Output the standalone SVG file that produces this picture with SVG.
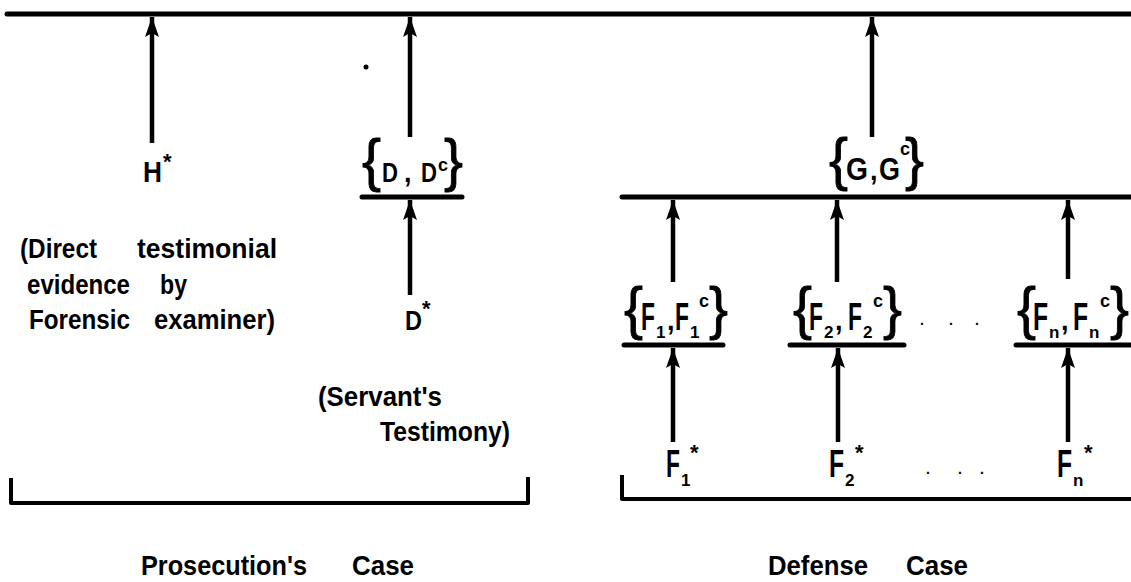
<svg xmlns="http://www.w3.org/2000/svg" width="1131" height="582" viewBox="0 0 1131 582">
<style>
  .t { font-family: "Liberation Sans", Arial, sans-serif; font-weight: bold; fill: #000; }
  .lbl { font-size: 28px; }
  .m { font-size: 38px; }
  .md { font-size: 27px; }
  .br { font-size: 57px; font-weight: normal; stroke: #000; stroke-width: 0.8; }
  .sup { font-size: 18px; }
  .sub { font-size: 17px; }
  .star { font-size: 22px; }
  .bar { stroke: #000; stroke-width: 5; stroke-linecap: round; fill: none; }
  .brk { stroke: #000; stroke-width: 4; fill: none; stroke-linejoin: round; }
  .con { stroke: #000; stroke-width: 4.5; fill: none; }
</style>
<defs>
  <marker id="ah" viewBox="0 0 20 14" refX="20" refY="7" markerWidth="20" markerHeight="14" markerUnits="userSpaceOnUse" orient="auto">
    <path d="M0,0 L20,7 L0,14 L4,7 Z" fill="#000"/>
  </marker>
</defs>
<rect width="1131" height="582" fill="#fff"/>

<g id="top-line">
  <line class="bar" x1="7" y1="14" x2="1131" y2="14"/>
</g>
<circle cx="366" cy="67" r="2.5" fill="#000"/>

<g id="node-H-star">
  <text class="t" style="font-size:30px" transform="translate(143,182) scale(0.875,1)">H</text>
  <text class="t star" x="163" y="169">*</text>
</g>

<g id="node-H-note">
  <text class="t lbl" x="20" y="258" textLength="77" lengthAdjust="spacingAndGlyphs">(Direct</text>
  <text class="t lbl" x="137" y="258" textLength="140" lengthAdjust="spacingAndGlyphs">testimonial</text>
  <text class="t lbl" x="27" y="294" textLength="103" lengthAdjust="spacingAndGlyphs">evidence</text>
  <text class="t lbl" x="160" y="294" textLength="27" lengthAdjust="spacingAndGlyphs">by</text>
  <text class="t lbl" x="29" y="329" textLength="101" lengthAdjust="spacingAndGlyphs">Forensic</text>
  <text class="t lbl" x="154" y="329" textLength="121" lengthAdjust="spacingAndGlyphs">examiner)</text>
</g>

<g id="node-D-set">
  <text class="t br" x="362" y="180">{</text>
  <text class="t md" transform="translate(382,182) scale(0.82,1)">D</text>
  <text class="t md" x="404" y="182">,</text>
  <text class="t md" transform="translate(421,182) scale(0.82,1)">D</text>
  <text class="t sup" x="438" y="171">c</text>
  <text class="t br" x="444" y="180">}</text>
  <line class="bar" x1="362" y1="197" x2="462" y2="197"/>
</g>

<g id="node-D-star">
  <text class="t md" transform="translate(405,330) scale(0.87,1)">D</text>
  <text class="t star" x="422" y="316">*</text>
</g>

<g id="node-D-note">
  <text class="t lbl" x="318" y="406" textLength="124" lengthAdjust="spacingAndGlyphs">(Servant's</text>
  <text class="t lbl" x="380" y="441" textLength="130" lengthAdjust="spacingAndGlyphs">Testimony)</text>
</g>

<g id="node-G-set">
  <text class="t br" x="829" y="179">{</text>
  <text class="t" style="font-size:31px" transform="translate(846,180) scale(0.91,1)">G</text>
  <text class="t md" x="870" y="180">,</text>
  <text class="t" style="font-size:31px" transform="translate(879,180) scale(0.87,1)">G</text>
  <text class="t sup" x="900" y="155">c</text>
  <text class="t br" x="905" y="179">}</text>
  <line class="bar" x1="622" y1="197" x2="1131" y2="197"/>
</g>

<g id="node-F1-set">
  <text class="t br" x="624" y="328">{</text>
  <text class="t m" transform="translate(641,330) scale(0.6,1)">F</text>
  <text class="t sub" x="656" y="338">1</text>
  <text class="t md" x="667" y="330">,</text>
  <text class="t m" transform="translate(675,330) scale(0.6,1)">F</text>
  <text class="t sub" x="690" y="338">1</text>
  <text class="t sup" x="699" y="307">c</text>
  <text class="t br" x="709" y="328">}</text>
  <line class="bar" x1="624" y1="345" x2="723" y2="345"/>
</g>

<g id="node-F2-set">
  <text class="t br" x="793" y="328">{</text>
  <text class="t m" transform="translate(809,330) scale(0.6,1)">F</text>
  <text class="t sub" x="824" y="338">2</text>
  <text class="t md" x="835" y="330">,</text>
  <text class="t m" transform="translate(848,330) scale(0.6,1)">F</text>
  <text class="t sub" x="863" y="338">2</text>
  <text class="t sup" x="873" y="307">c</text>
  <text class="t br" x="883" y="328">}</text>
  <line class="bar" x1="790" y1="345" x2="904" y2="345"/>
</g>

<g id="node-Fn-set">
  <text class="t br" x="1017" y="328">{</text>
  <text class="t m" transform="translate(1033,330) scale(0.65,1)">F</text>
  <text class="t sub" x="1049" y="338">n</text>
  <text class="t md" x="1061" y="330">,</text>
  <text class="t m" transform="translate(1073,330) scale(0.65,1)">F</text>
  <text class="t sub" x="1089" y="338">n</text>
  <text class="t sup" x="1100" y="307">c</text>
  <text class="t br" x="1110" y="328">}</text>
  <line class="bar" x1="1016" y1="345" x2="1131" y2="345"/>
</g>

<g id="node-F1-star">
  <text class="t m" transform="translate(666,477) scale(0.6,1)">F</text>
  <text class="t sub" x="681" y="486">1</text>
  <text class="t star" x="690" y="460">*</text>
</g>
<g id="node-F2-star">
  <text class="t m" transform="translate(829,477) scale(0.65,1)">F</text>
  <text class="t sub" x="845" y="486">2</text>
  <text class="t star" x="855" y="460">*</text>
</g>
<g id="node-Fn-star">
  <text class="t m" transform="translate(1057,477) scale(0.65,1)">F</text>
  <text class="t sub" x="1073" y="486">n</text>
  <text class="t star" x="1084" y="460">*</text>
</g>

<g id="ellipses">
  <text class="t" style="font-size:14px" x="920 949 975" y="325">...</text>
  <text class="t" style="font-size:14px" x="926 958 980" y="474">...</text>
</g>

<g id="bracket-prosecution">
  <path class="brk" d="M11,478 L11,503 L528,503 L528,477"/>
  <text class="t lbl" x="141" y="575" textLength="166" lengthAdjust="spacingAndGlyphs">Prosecution's</text>
  <text class="t lbl" x="352" y="575" textLength="62" lengthAdjust="spacingAndGlyphs">Case</text>
</g>

<g id="bracket-defense">
  <path class="brk" d="M622,475 L622,499 L1131,499"/>
  <text class="t lbl" x="768" y="575" textLength="100" lengthAdjust="spacingAndGlyphs">Defense</text>
  <text class="t lbl" x="906" y="575" textLength="62" lengthAdjust="spacingAndGlyphs">Case</text>
</g>

<g id="connectors">
  <path class="con" d="M152,143 L152,17" marker-end="url(#ah)"/>
  <path class="con" d="M410,137 L410,17" marker-end="url(#ah)"/>
  <path class="con" d="M410,295 L410,200" marker-end="url(#ah)"/>
  <path class="con" d="M872,137 L872,17" marker-end="url(#ah)"/>
  <path class="con" d="M673,282 L673,200" marker-end="url(#ah)"/>
  <path class="con" d="M837,282 L837,200" marker-end="url(#ah)"/>
  <path class="con" d="M1068,279 L1068,200" marker-end="url(#ah)"/>
  <path class="con" d="M673,442 L673,348" marker-end="url(#ah)"/>
  <path class="con" d="M838,442 L838,348" marker-end="url(#ah)"/>
  <path class="con" d="M1068,442 L1068,348" marker-end="url(#ah)"/>
</g>
</svg>
